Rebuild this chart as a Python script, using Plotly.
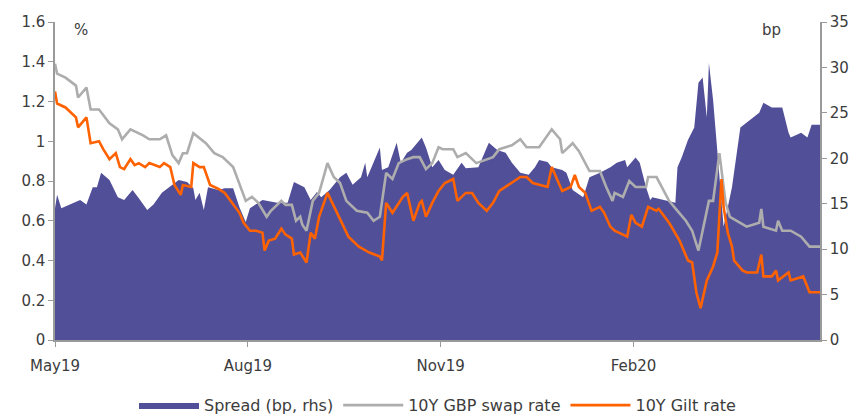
import plotly.graph_objects as go

# 10Y GBP swap rate (%)
swap_dates = [
    "2019-05-01", "2019-05-02", "2019-05-06", "2019-05-11", "2019-05-12", "2019-05-16",
    "2019-05-18", "2019-05-22", "2019-05-27", "2019-05-31", "2019-06-02", "2019-06-06",
    "2019-06-12", "2019-06-15", "2019-06-20", "2019-06-23", "2019-06-26", "2019-06-29",
    "2019-07-01", "2019-07-03", "2019-07-06", "2019-07-12", "2019-07-16", "2019-07-20",
    "2019-07-25", "2019-07-29", "2019-07-31", "2019-08-03", "2019-08-06", "2019-08-10",
    "2019-08-12", "2019-08-17", "2019-08-19", "2019-08-22", "2019-08-24", "2019-08-26",
    "2019-08-27", "2019-08-29", "2019-09-01", "2019-09-04", "2019-09-08", "2019-09-11",
    "2019-09-14", "2019-09-17", "2019-09-22", "2019-09-27", "2019-09-30", "2019-10-03",
    "2019-10-06", "2019-10-09", "2019-10-12", "2019-10-16", "2019-10-19", "2019-10-22",
    "2019-10-25", "2019-10-28", "2019-10-31", "2019-11-02", "2019-11-07", "2019-11-09",
    "2019-11-13", "2019-11-18", "2019-11-23", "2019-11-26", "2019-11-29", "2019-12-05",
    "2019-12-09", "2019-12-12", "2019-12-18", "2019-12-24", "2019-12-28", "2019-12-29",
    "2020-01-03", "2020-01-06", "2020-01-11", "2020-01-16", "2020-01-19", "2020-01-22",
    "2020-01-23", "2020-01-27", "2020-01-30", "2020-02-02", "2020-02-07", "2020-02-08",
    "2020-02-12", "2020-02-14", "2020-02-18", "2020-02-22", "2020-02-26", "2020-02-29",
    "2020-03-03", "2020-03-05", "2020-03-08", "2020-03-10", "2020-03-13", "2020-03-15",
    "2020-03-16", "2020-03-18", "2020-03-21", "2020-03-26", "2020-04-01", "2020-04-02",
    "2020-04-03", "2020-04-09", "2020-04-10", "2020-04-12", "2020-04-16", "2020-04-21",
    "2020-04-25", "2020-04-30",
]
swap_rate = [
    1.39, 1.34, 1.32, 1.28, 1.22, 1.27,
    1.16, 1.16, 1.09, 1.06, 1.01, 1.06,
    1.03, 1.01, 1.01, 1.03, 0.93, 0.89,
    0.94, 0.94, 1.04, 0.99, 0.94, 0.92,
    0.87, 0.75, 0.70, 0.72, 0.69, 0.62,
    0.65, 0.70, 0.68, 0.68, 0.60, 0.62,
    0.58, 0.55, 0.70, 0.74, 0.89, 0.82,
    0.79, 0.70, 0.65, 0.64, 0.60, 0.62,
    0.84, 0.81, 0.89, 0.91, 0.92, 0.92,
    0.86, 0.89, 0.97, 0.96, 0.96, 0.92,
    0.94, 0.89, 0.91, 0.92, 0.96, 0.98,
    1.01, 0.97, 0.97, 1.06, 1.01, 0.94,
    0.99, 0.95, 0.85, 0.85, 0.77, 0.70,
    0.74, 0.72, 0.80, 0.77, 0.77, 0.82,
    0.82, 0.78, 0.70, 0.65, 0.60, 0.55,
    0.45, 0.55, 0.70, 0.70, 0.94, 0.77,
    0.69, 0.62, 0.60, 0.57, 0.59, 0.66,
    0.57, 0.55, 0.60, 0.55, 0.55, 0.52,
    0.47, 0.47,
]

# 10Y Gilt rate (%)
gilt_dates = [
    "2019-05-01", "2019-05-02", "2019-05-06", "2019-05-11", "2019-05-12", "2019-05-16",
    "2019-05-18", "2019-05-22", "2019-05-24", "2019-05-27", "2019-05-30", "2019-06-01",
    "2019-06-03", "2019-06-06", "2019-06-08", "2019-06-10", "2019-06-13", "2019-06-15",
    "2019-06-20", "2019-06-22", "2019-06-25", "2019-06-27", "2019-06-30", "2019-07-01",
    "2019-07-05", "2019-07-06", "2019-07-09", "2019-07-11", "2019-07-14", "2019-07-18",
    "2019-07-21", "2019-07-25", "2019-07-28", "2019-07-30", "2019-08-02", "2019-08-05",
    "2019-08-08", "2019-08-09", "2019-08-11", "2019-08-14", "2019-08-17", "2019-08-19",
    "2019-08-22", "2019-08-23", "2019-08-26", "2019-08-29", "2019-08-31", "2019-09-02",
    "2019-09-04", "2019-09-08", "2019-09-12", "2019-09-18", "2019-09-23", "2019-09-28",
    "2019-10-03", "2019-10-04", "2019-10-06", "2019-10-09", "2019-10-14", "2019-10-16",
    "2019-10-19", "2019-10-22", "2019-10-23", "2019-10-25", "2019-10-28", "2019-10-31",
    "2019-11-03", "2019-11-07", "2019-11-09", "2019-11-13", "2019-11-16", "2019-11-19",
    "2019-11-23", "2019-11-26", "2019-11-29", "2019-12-02", "2019-12-05", "2019-12-09",
    "2019-12-12", "2019-12-15", "2019-12-22", "2019-12-24", "2019-12-29", "2020-01-02",
    "2020-01-04", "2020-01-06", "2020-01-09", "2020-01-12", "2020-01-16", "2020-01-18",
    "2020-01-21", "2020-01-23", "2020-01-25", "2020-01-29", "2020-01-31", "2020-02-02",
    "2020-02-05", "2020-02-08", "2020-02-12", "2020-02-13", "2020-02-18", "2020-02-23",
    "2020-02-27", "2020-02-29", "2020-03-02", "2020-03-04", "2020-03-07", "2020-03-10",
    "2020-03-12", "2020-03-14", "2020-03-15", "2020-03-17", "2020-03-19", "2020-03-20",
    "2020-03-24", "2020-03-26", "2020-03-31", "2020-04-02", "2020-04-03", "2020-04-07",
    "2020-04-09", "2020-04-10", "2020-04-15", "2020-04-16", "2020-04-22", "2020-04-25",
    "2020-04-30",
]
gilt_rate = [
    1.25, 1.19, 1.17, 1.12, 1.07, 1.12,
    0.99, 1.00, 0.96, 0.91, 0.94, 0.87,
    0.86, 0.91, 0.88, 0.89, 0.87, 0.89,
    0.87, 0.89, 0.87, 0.78, 0.73, 0.78,
    0.77, 0.89, 0.87, 0.87, 0.78, 0.76,
    0.74, 0.68, 0.64, 0.59, 0.55, 0.55,
    0.54, 0.45, 0.50, 0.51, 0.56, 0.53,
    0.51, 0.43, 0.44, 0.39, 0.54, 0.51,
    0.62, 0.74, 0.65, 0.52, 0.47, 0.44,
    0.42, 0.40, 0.69, 0.64, 0.72, 0.74,
    0.60, 0.69, 0.70, 0.62, 0.69, 0.75,
    0.79, 0.81, 0.70, 0.74, 0.74, 0.69,
    0.65, 0.69, 0.75, 0.77, 0.79, 0.82,
    0.82, 0.79, 0.77, 0.87, 0.75, 0.77,
    0.83, 0.77, 0.74, 0.65, 0.67, 0.64,
    0.57, 0.55, 0.54, 0.52, 0.63, 0.59,
    0.57, 0.67, 0.65, 0.66, 0.59, 0.50,
    0.40, 0.39, 0.24, 0.16, 0.30, 0.37,
    0.44, 0.81, 0.67, 0.54, 0.47, 0.40,
    0.35, 0.34, 0.34, 0.43, 0.32, 0.32,
    0.35, 0.30, 0.34, 0.30, 0.32, 0.24,
    0.24,
]

# Swap spread (bp)
spread_dates = [
    "2019-05-01", "2019-05-02", "2019-05-04", "2019-05-08", "2019-05-13", "2019-05-16",
    "2019-05-19", "2019-05-21", "2019-05-23", "2019-05-27", "2019-05-31", "2019-06-03",
    "2019-06-07", "2019-06-10", "2019-06-14", "2019-06-17", "2019-06-21", "2019-06-29",
    "2019-07-03", "2019-07-06", "2019-07-07", "2019-07-09", "2019-07-11", "2019-07-13",
    "2019-07-18", "2019-07-21", "2019-07-25", "2019-07-28", "2019-07-31", "2019-08-02",
    "2019-08-08", "2019-08-15", "2019-08-20", "2019-08-23", "2019-08-28", "2019-08-31",
    "2019-09-03", "2019-09-05", "2019-09-09", "2019-09-14", "2019-09-17", "2019-09-20",
    "2019-09-24", "2019-09-26", "2019-09-27", "2019-10-03", "2019-10-04", "2019-10-07",
    "2019-10-11", "2019-10-13", "2019-10-16", "2019-10-18", "2019-10-21", "2019-10-23",
    "2019-10-25", "2019-10-28", "2019-10-31", "2019-11-03", "2019-11-07", "2019-11-11",
    "2019-11-13", "2019-11-19", "2019-11-24", "2019-11-28", "2019-12-02", "2019-12-05",
    "2019-12-09", "2019-12-13", "2019-12-16", "2019-12-18", "2019-12-22", "2019-12-24",
    "2019-12-29", "2019-12-31", "2020-01-03", "2020-01-08", "2020-01-11", "2020-01-16",
    "2020-01-21", "2020-01-24", "2020-01-28", "2020-01-29", "2020-02-02", "2020-02-04",
    "2020-02-07", "2020-02-09", "2020-02-10", "2020-02-15", "2020-02-21", "2020-02-22",
    "2020-02-24", "2020-02-27", "2020-03-01", "2020-03-03", "2020-03-05", "2020-03-07",
    "2020-03-08", "2020-03-10", "2020-03-12", "2020-03-14", "2020-03-15", "2020-03-16",
    "2020-03-19", "2020-03-23", "2020-03-26", "2020-03-29", "2020-04-01", "2020-04-03",
    "2020-04-07", "2020-04-12", "2020-04-15", "2020-04-16", "2020-04-21", "2020-04-24",
    "2020-04-26", "2020-04-30",
]
spread_bp = [
    14.5, 16.0, 14.5, 14.9, 15.4, 14.9,
    16.8, 16.8, 18.4, 17.6, 15.7, 15.4,
    16.5, 15.6, 14.3, 14.9, 16.2, 17.6,
    17.4, 16.7, 15.4, 16.2, 14.3, 16.8,
    16.5, 16.7, 16.7, 14.6, 13.0, 14.5,
    15.4, 15.1, 15.1, 17.4, 16.8, 15.4,
    16.3, 15.7, 16.5, 17.9, 18.4, 17.1,
    17.9, 19.5, 17.9, 21.2, 18.7, 19.0,
    21.7, 19.5, 20.6, 20.9, 21.7, 22.3,
    21.2, 19.0, 19.8, 18.7, 18.2, 19.5,
    18.9, 19.0, 21.7, 20.9, 20.6, 19.5,
    18.4, 18.2, 19.0, 19.8, 19.6, 19.0,
    18.7, 18.4, 16.5, 15.7, 17.9, 18.4,
    19.0, 19.5, 19.8, 19.0, 20.1, 19.5,
    16.8, 15.4, 15.7, 15.4, 15.1, 19.0,
    20.1, 22.0, 23.4, 28.3, 28.9, 24.5,
    30.5, 26.4, 21.2, 15.4, 12.5, 13.5,
    16.8, 23.4, 23.9, 24.5, 25.0, 26.1,
    25.6, 25.6, 22.8, 22.3, 22.8, 22.3,
    23.7, 23.7,
]

x_tick_dates = ["2019-05-01", "2019-08-01", "2019-11-01", "2020-02-01"]
x_tick_labels = ["May19", "Aug19", "Nov19", "Feb20"]

FONT = "DejaVu Sans, Verdana, sans-serif"
TEXT = "#3c3c3c"
AXIS = "#9a9a9a"
FS = 15

fig = go.Figure()

# spread area on the base (right-hand, bp) axis so the rate lines sit on top
fig.add_trace(go.Scatter(
    x=spread_dates, y=spread_bp, name="Spread (bp, rhs)",
    mode="lines", line=dict(width=0, color="#524f99"),
    fill="tozeroy", fillcolor="#524f99", yaxis="y",
))
fig.add_trace(go.Scatter(
    x=swap_dates, y=swap_rate, name="10Y GBP swap rate",
    mode="lines", line=dict(width=2.6, color="#adadad"), yaxis="y2",
))
fig.add_trace(go.Scatter(
    x=gilt_dates, y=gilt_rate, name="10Y Gilt rate",
    mode="lines", line=dict(width=2.6, color="#ff6200"), yaxis="y2",
))

fig.update_layout(
    width=858, height=419,
    margin=dict(l=55, r=38, t=22, b=79, autoexpand=False),
    paper_bgcolor="white", plot_bgcolor="white",
    font=dict(family=FONT, size=FS, color=TEXT),
    showlegend=True,
    legend=dict(
        orientation="h", x=0.5, xanchor="center", y=-0.205, yanchor="middle",
        font=dict(size=16, color=TEXT), itemwidth=60,
        traceorder="normal",
    ),
    xaxis=dict(
        type="date", range=["2019-05-01", "2020-04-30"],
        tickvals=x_tick_dates, ticktext=x_tick_labels,
        showgrid=False, zeroline=False,
        showline=True, linecolor=AXIS, linewidth=1.5,
        ticks="outside", ticklen=5, tickcolor=AXIS,
        ticklabelstandoff=6,
    ),
    yaxis=dict(
        range=[0, 35], dtick=5, side="right",
        showgrid=False, zeroline=False,
        showline=True, linecolor=AXIS, linewidth=1.5,
        ticks="outside", ticklen=5, tickcolor=AXIS,
    ),
    yaxis2=dict(
        range=[0, 1.6], dtick=0.2, side="left", overlaying="y",
        showgrid=False, zeroline=False,
        showline=True, linecolor=AXIS, linewidth=1.5,
        ticks="outside", ticklen=5, tickcolor=AXIS,
    ),
    annotations=[
        dict(text="%", xref="paper", yref="paper", x=0.022, y=1.0,
             xanchor="left", yanchor="top", yshift=3, showarrow=False,
             font=dict(size=FS, color=TEXT)),
        dict(text="bp", xref="paper", yref="paper", x=0.922, y=1.0,
             xanchor="left", yanchor="top", yshift=3, showarrow=False,
             font=dict(size=FS, color=TEXT)),
    ],
)

fig.write_html("out.html")
